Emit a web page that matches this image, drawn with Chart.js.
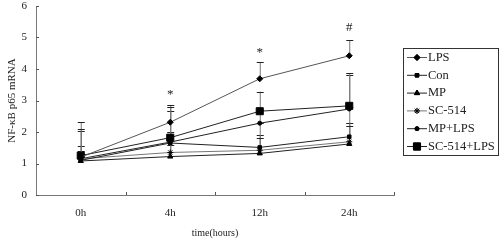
<!DOCTYPE html>
<html>
<head>
<meta charset="utf-8">
<script src="https://cdn.jsdelivr.net/npm/chart.js"></script>
<style>
  html, body { margin: 0; padding: 0; background: #fff; }
  #wrap { width: 500px; height: 243px; }
</style>
</head>
<body>
<div id="wrap"><canvas id="line-chart"></canvas></div>
<script>
// time points
var times = ["0h", "4h", "12h", "24h"];

// mean NF-kB p65 mRNA per group
var lps    = [1.20, 2.31, 3.69, 4.42];
var con    = [1.10, 1.65, 1.51, 1.85];
var mp     = [1.08, 1.22, 1.32, 1.62];
var sc514  = [1.15, 1.35, 1.42, 1.69];
var mpLps  = [1.15, 1.68, 2.28, 2.73];
var scLps  = [1.25, 1.82, 2.66, 2.83];

// top of each error bar
var lpsTop   = [2.31, 2.86, 4.21, 4.92];
var conTop   = [1.57, 2.00, 1.90, 2.30];
var mpTop    = [1.30, 1.60, 2.30, 2.80];
var sc514Top = [1.40, 1.70, 1.80, 2.20];
var mpLpsTop = [2.03, 2.68, 2.70, 3.81];
var scLpsTop = [2.10, 2.79, 3.28, 3.87];

// significance marks over LPS
var marks = ["", "*", "*", "#"];
var markValues = [0, 3.2, 4.52, 5.32];

var yTicks = [0, 1, 2, 3, 4, 5, 6];

var serif = "'Liberation Serif', 'Times New Roman', serif";

function ds(label, data, tops, style, radius, color) {
    return {
        label: label,
        data: data,
        tops: tops,
        borderColor: color,
        borderWidth: 1,
        backgroundColor: '#000',
        pointBackgroundColor: '#000',
        pointBorderColor: '#000',
        pointBorderWidth: 1,
        pointStyle: style,
        pointRadius: radius,
        tension: 0
    };
}

// error bars (upper only) and the * / # marks
var errorBars = {
    id: 'errorBars',
    beforeDatasetsDraw: function (chart) {
        var ctx = chart.ctx, x = chart.scales.x, y = chart.scales.y;
        ctx.save();
        chart.data.datasets.forEach(function (d) {
            d.data.forEach(function (v, i) {
                var px = x.getPixelForValue(i);
                var y0 = y.getPixelForValue(v), y1 = y.getPixelForValue(d.tops[i]);
                ctx.strokeStyle = '#777';
                ctx.lineWidth = 1;
                ctx.beginPath();
                ctx.moveTo(px + 0.5, y0);
                ctx.lineTo(px + 0.5, y1);
                ctx.stroke();
                ctx.strokeStyle = '#222';
                ctx.beginPath();
                ctx.moveTo(px - 3, Math.round(y1) + 0.5);
                ctx.lineTo(px + 4, Math.round(y1) + 0.5);
                ctx.stroke();
            });
        });
        ctx.fillStyle = '#222';
        ctx.font = '13px ' + serif;
        ctx.textAlign = 'center';
        ctx.textBaseline = 'middle';
        marks.forEach(function (m, i) {
            if (m) ctx.fillText(m, x.getPixelForValue(i), y.getPixelForValue(markValues[i]));
        });
        ctx.restore();
    }
};

// small inward tick marks on both axes
var innerTicks = {
    id: 'innerTicks',
    afterDraw: function (chart) {
        var ctx = chart.ctx, x = chart.scales.x, y = chart.scales.y, a = chart.chartArea;
        ctx.save();
        ctx.strokeStyle = '#555';
        ctx.lineWidth = 1;
        ctx.beginPath();
        yTicks.forEach(function (t) {
            var py = Math.round(y.getPixelForValue(t)) + 0.5;
            ctx.moveTo(a.left, py);
            ctx.lineTo(a.left + 3, py);
        });
        for (var i = 1; i <= times.length; i++) {
            var px = i < times.length
                ? (x.getPixelForValue(i - 1) + x.getPixelForValue(i)) / 2
                : a.right;
            px = Math.round(px) + 0.5;
            ctx.moveTo(px, a.bottom);
            ctx.lineTo(px, a.bottom - 3);
        }
        ctx.stroke();
        ctx.restore();
    }
};

// boxed legend with line + marker samples
var boxLegend = {
    id: 'boxLegend',
    afterDraw: function (chart) {
        var ctx = chart.ctx;
        var left = 403, top = 48, w = 95, h = 107;
        ctx.save();
        ctx.strokeStyle = '#333';
        ctx.lineWidth = 1;
        ctx.strokeRect(left + 0.5, top + 0.5, w, h);
        ctx.font = '12.5px ' + serif;
        ctx.textBaseline = 'middle';
        chart.data.datasets.forEach(function (d, i) {
            var cy = top + 9.5 + i * 17.8;
            ctx.strokeStyle = d.borderColor;
            ctx.beginPath();
            ctx.moveTo(left + 4, cy);
            ctx.lineTo(left + 24, cy);
            ctx.stroke();
            Chart.helpers.drawPoint(ctx, {
                pointStyle: d.pointStyle,
                radius: d.pointRadius,
                borderWidth: 1,
                rotation: 0
            }, left + 14, cy);
            ctx.fillStyle = '#000';
            ctx.strokeStyle = '#000';
            ctx.fill();
            ctx.stroke();
            ctx.fillStyle = '#222';
            ctx.fillText(d.label, left + 25, cy);
        });
        ctx.restore();
    }
};

new Chart(document.getElementById("line-chart"), {
    type: 'line',
    data: {
        labels: times,
        datasets: [
            ds("LPS", lps, lpsTop, 'rectRot', 3, '#555'),
            ds("Con", con, conTop, 'rect', 2.5, '#222'),
            ds("MP", mp, mpTop, 'triangle', 3, '#222'),
            ds("SC-514", sc514, sc514Top, 'star', 3, '#777'),
            ds("MP+LPS", mpLps, mpLpsTop, 'circle', 2, '#222'),
            ds("SC-514+LPS", scLps, scLpsTop, 'rect', 5, '#222')
        ]
    },
    options: {
        responsive: true,
        maintainAspectRatio: false,
        animation: false,
        layout: { padding: { top: 6, right: 106, left: 0, bottom: 0 } },
        plugins: {
            legend: { display: false },
            tooltip: { enabled: false }
        },
        scales: {
            x: {
                offset: true,
                afterFit: function (s) { s.height = 48; s.paddingLeft = 0; s.paddingRight = 0; },
                grid: { display: false, drawTicks: false },
                border: { display: true, color: '#777', width: 1 },
                ticks: { color: '#222', padding: 12, font: { family: serif, size: 11 } },
                title: { display: true, text: 'time(hours)', color: '#222', padding: { top: 2, bottom: 4 }, font: { family: serif, size: 10 } }
            },
            y: {
                min: 0,
                max: 6,
                afterFit: function (s) { s.width = 36; s.paddingTop = 0; s.paddingBottom = 0; },
                grid: { display: false, drawTicks: false },
                border: { display: true, color: '#777', width: 1 },
                ticks: { stepSize: 1, color: '#222', padding: 9, font: { family: serif, size: 11 } },
                title: { display: true, text: 'NF-κB p65 mRNA', color: '#222', padding: { top: 6, bottom: 0 }, font: { family: serif, size: 11 } }
            }
        }
    },
    plugins: [errorBars, innerTicks, boxLegend]
});
</script>
</body>
</html>
